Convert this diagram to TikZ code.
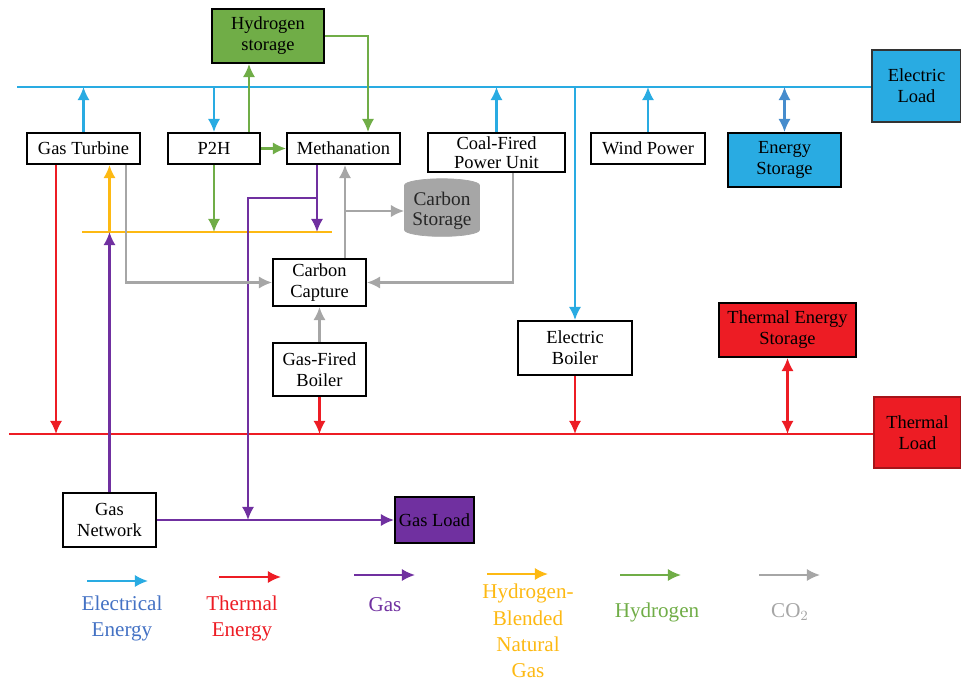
\documentclass[tikz,border=0pt]{standalone}
\usepackage{fontspec}
\setmainfont{Liberation Serif}
\usetikzlibrary{arrows.meta,shapes.geometric}

\definecolor{eblue}{RGB}{41,171,226}
\definecolor{esblue}{RGB}{70,140,205}
\definecolor{lblue}{RGB}{68,114,196}
\definecolor{tred}{RGB}{237,28,36}
\definecolor{gpurple}{RGB}{112,48,160}
\definecolor{hbng}{RGB}{253,185,19}
\definecolor{hgreen}{RGB}{112,173,71}
\definecolor{cgray}{RGB}{166,166,166}

\begin{document}
\begin{tikzpicture}[x=0.02cm, y=-0.02cm, >={Latex[length=7.5pt,width=7pt]},
                    font=\fontsize{10.5}{12}\selectfont]
  \tikzstyle{blk}=[draw=black, line width=1.1pt, fill=white, align=center,
                   inner sep=2pt]
  \tikzstyle{cyl}=[cylinder, shape border rotate=90, aspect=0.22, draw=cgray,
                   fill=cgray, minimum width=1.5cm, minimum height=1.04cm,
                   align=center, inner sep=0pt, text=black!85,
                   font=\fontsize{11}{11.5}\selectfont]
  \tikzstyle{elec}=[draw=eblue, line width=1.2pt]
  \tikzstyle{therm}=[draw=tred, line width=1.2pt]
  \tikzstyle{gas}=[draw=gpurple, line width=1.2pt]
  \tikzstyle{hbl}=[draw=hbng, line width=1.2pt]
  \tikzstyle{hyd}=[draw=hgreen, line width=1.2pt]
  \tikzstyle{co2}=[draw=cgray, line width=1.2pt]
  \tikzstyle{lgd}=[align=center, font=\fontsize{12}{15}\selectfont]

  \useasboundingbox (0,0) rectangle (961,683);

  % ================= khoi thiet bi =================
  \node[blk, fill=hgreen, minimum width=2.24cm, minimum height=1.08cm] (hstore) at (268,36) {Hydrogen\\storage};
  \node[blk, minimum width=2.26cm, minimum height=0.62cm] (gt) at (83.5,148.5) {Gas Turbine};
  \node[blk, minimum width=1.84cm, minimum height=0.62cm] (p2h) at (214,148.5) {P2H};
  \node[blk, minimum width=2.26cm, minimum height=0.62cm] (meth) at (343.5,148.5) {Methanation};
  \node[blk, minimum width=2.74cm, minimum height=0.78cm, inner sep=1pt,
        font=\fontsize{10.5}{10.5}\selectfont] (coal) at (496.5,152.5) {Coal-Fired\\Power Unit};
  \node[blk, minimum width=2.28cm, minimum height=0.62cm] (wind) at (648,148.5) {Wind Power};
  \node[blk, fill=eblue, minimum width=2.26cm, minimum height=1.08cm] (es) at (784.5,160) {Energy\\Storage};
  \node[blk, fill=eblue, draw=black!80, minimum width=1.78cm, minimum height=1.44cm] (eload) at (916.5,86) {Electric\\Load};
  \node[cyl] (cstore) at (442,211) {Carbon\\Storage};
  \node[blk, minimum width=1.86cm, minimum height=0.94cm] (ccap) at (319.5,282.5) {Carbon\\Capture};
  \node[blk, minimum width=1.86cm, minimum height=1.06cm] (gfb) at (319.5,369.5) {Gas-Fired\\Boiler};
  \node[blk, minimum width=2.28cm, minimum height=1.08cm] (eb) at (575,348) {Electric\\Boiler};
  \node[blk, fill=tred, minimum width=2.74cm, minimum height=1.08cm] (tes) at (787.5,330) {Thermal Energy\\Storage};
  \node[blk, fill=tred, draw=tred!70!black, minimum width=1.74cm, minimum height=1.42cm] (tload) at (917.5,432.5) {Thermal\\Load};
  \node[blk, minimum width=1.86cm, minimum height=1.08cm] (gnet) at (109.5,520) {Gas\\Network};
  \node[blk, fill=gpurple, minimum width=1.58cm, minimum height=0.92cm] (gload) at (434.5,520) {Gas Load};

  % ================= cac thanh cai =================
  \coordinate (ebusW) at (17,87);
  \coordinate (tbusW) at (9,434);
  \coordinate (hbW) at (82,232);
  \coordinate (hbE) at (332,232);
  \coordinate (mbr) at (317,198);
  \coordinate (gjoin) at (248,520);
  \draw[elec] (ebusW) -- (ebusW -| eload.west);
  \draw[therm] (tbusW) -- (tbusW -| tload.west);
  \draw[hbl] (hbW) -- (hbE);

  % ================= dien =================
  \draw[elec, ->] (gt.north) -- (gt.north |- ebusW);
  \draw[elec, ->] (p2h.north |- ebusW) -- (p2h.north);
  \draw[elec, ->] (coal.north) -- (coal.north |- ebusW);
  \draw[elec, ->] (eb.north |- ebusW) -- (eb.north);
  \draw[elec, ->] (wind.north) -- (wind.north |- ebusW);
  \draw[elec, draw=esblue, <->] (es.north) -- (es.north |- ebusW);

  % ================= hydro =================
  \draw[hyd, ->] ([xshift=0.7cm]p2h.north) -- ([xshift=0.7cm]p2h.north |- hstore.south);
  \draw[hyd, ->] (hstore.east) -| ([xshift=0.49cm]meth.north);
  \draw[hyd, ->] (p2h.east) -- (meth.west);
  \draw[hyd, ->] (p2h.south) -- (p2h.south |- hbW);

  % ================= khi =================
  \draw[gas, ->] ([xshift=-0.53cm]meth.south) -- ([xshift=-0.53cm]meth.south |- hbW);
  \draw[gas, ->] (mbr) -| (gjoin);
  \draw[gas, ->] (gnet.north) -- (gnet.north |- hbW);
  \draw[gas, ->] (gnet.east) -- (gload.west);
  \draw[hbl, ->] (gnet.north |- hbW) -- (gnet.north |- gt.south);

  % ================= nhiet =================
  \draw[therm, ->] ([xshift=-0.55cm]gt.south) -- ([xshift=-0.55cm]gt.south |- tbusW);
  \draw[therm, ->] (gfb.south) -- (gfb.south |- tbusW);
  \draw[therm, ->] (eb.south) -- (eb.south |- tbusW);
  \draw[therm, <->] (tes.south) -- (tes.south |- tbusW);

  % ================= CO2 =================
  \draw[co2, ->] ([xshift=0.85cm]gt.south) |- (ccap.west);
  \draw[co2, ->] ([xshift=0.33cm]coal.south) |- (ccap.east);
  \draw[co2, ->] (gfb.north) -- (ccap.south);
  \draw[co2, ->] ([xshift=0.51cm]ccap.north) -- ([xshift=0.51cm]ccap.north |- meth.south);
  \draw[co2, ->] ([xshift=0.51cm]ccap.north |- cstore.west) -- (cstore.west);

  % ================= chu giai =================
  \coordinate (lgEa) at (87,581);  \coordinate (lgEb) at (148,581);
  \coordinate (lgTa) at (219,577); \coordinate (lgTb) at (281,577);
  \coordinate (lgGa) at (354,575); \coordinate (lgGb) at (415,575);
  \coordinate (lgBa) at (487,574); \coordinate (lgBb) at (548,574);
  \coordinate (lgHa) at (620,575); \coordinate (lgHb) at (681,575);
  \coordinate (lgCa) at (759,575); \coordinate (lgCb) at (820,575);
  \draw[elec, ->] (lgEa) -- (lgEb);
  \draw[therm, ->] (lgTa) -- (lgTb);
  \draw[gas, ->] (lgGa) -- (lgGb);
  \draw[hbl, ->] (lgBa) -- (lgBb);
  \draw[hyd, ->] (lgHa) -- (lgHb);
  \draw[co2, ->] (lgCa) -- (lgCb);
  \node[lgd, text=lblue] (lgE) at (122,618.5) {Electrical\\Energy};
  \node[lgd, text=tred] (lgT) at (242,618.5) {Thermal\\Energy};
  \node[lgd, text=gpurple] (lgG) at (385,605) {Gas};
  \node[lgd, text=hbng] (lgB) at (528,631) {Hydrogen-\\Blended\\Natural\\Gas};
  \node[lgd, text=hgreen] (lgH) at (657,612) {Hydrogen};
  \node[lgd, text=cgray] (lgC) at (790,612) {CO$_2$};
\end{tikzpicture}
\end{document}
